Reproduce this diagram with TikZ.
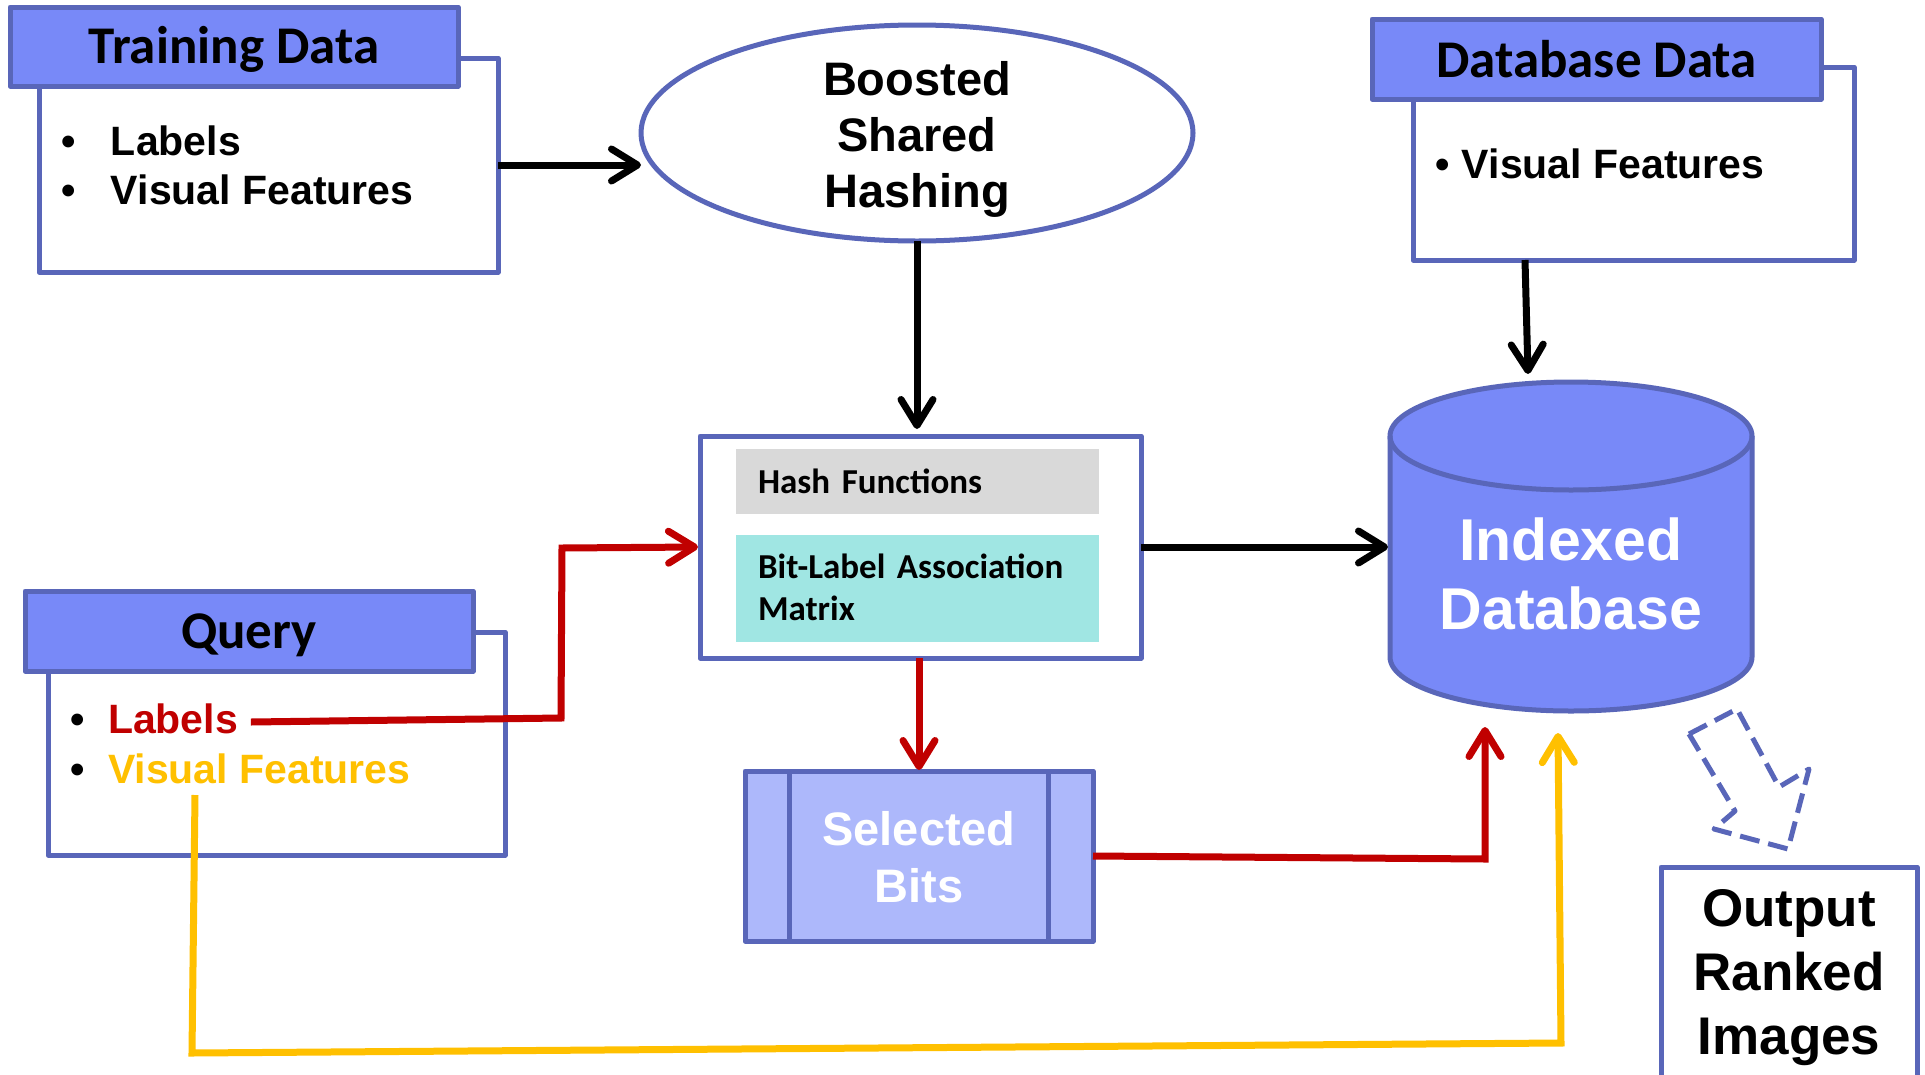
\documentclass[tikz,border=0pt]{standalone}
\usepackage{fontspec}
\setmainfont{Liberation Sans}
\newfontfamily\calfont{Carlito}
\usetikzlibrary{arrows.meta,calc,shapes.geometric}

\definecolor{bdr}{RGB}{89,102,185}
\definecolor{hdr}{RGB}{120,137,248}
\definecolor{bitsfill}{RGB}{173,184,251}
\definecolor{cyanfill}{RGB}{160,230,227}
\definecolor{grayfill}{RGB}{217,217,217}
\definecolor{qred}{RGB}{192,0,0}
\definecolor{qyellow}{RGB}{255,192,0}

\newcommand\fsz[2]{\fontsize{#1}{#2}\selectfont}

\begin{document}
\begin{tikzpicture}[x=1pt,y=-1pt,
  every node/.style={inner sep=0pt,outer sep=0pt},
  panel/.style={rectangle,draw=bdr,line width=5pt,fill=white,line join=round},
  header/.style={rectangle,draw=bdr,line width=5pt,fill=hdr,line join=round,
    font=\calfont\bfseries\fsz{53}{64}},
  item/.style={anchor=base west,font=\bfseries\fsz{41}{49}},
  tip/.style={-{Straight Barb[length=26pt,width=32pt,round]}},
  blk/.style={tip,line width=7pt,black},
  redc/.style={tip,line width=7pt,qred},
  yelc/.style={tip,line width=7pt,qyellow},
]
\useasboundingbox (0,0) rectangle (1925,1074);
\fill[white] (0,0) rectangle (1925,1074);

% ---- Training data panel
\node[panel,minimum width=459pt,minimum height=214pt] (trainbody) at (268.5,165) {};
\node[header,minimum width=448pt,minimum height=79pt,text height=45pt,text depth=12pt]
  (trainhead) at (234,46.5) {Training Data};
\node[item] (tl1) at (61,155) {\makebox[50pt][l]{•}Labels};
\node[item] (tl2) at (61,204) {\makebox[50pt][l]{•}Visual Features};

% ---- Boosted shared hashing
\node[ellipse,draw=bdr,line width=5pt,fill=white,minimum width=552pt,minimum height=216pt]
  (boost) at (917,133) {};
\node[align=center,font=\bfseries\fsz{47}{56}] (boosttxt) at (boost.center)
  {\rule{0pt}{48pt}Boosted\\Shared\\Hashing\rule[-12pt]{0pt}{12pt}};

% ---- Database data panel
\node[panel,minimum width=441pt,minimum height=193pt] (dbbody) at (1633.5,163.5) {};
\node[header,minimum width=449pt,minimum height=80pt,text height=40pt,text depth=4pt]
  (dbhead) at (1596.5,59) {Database Data};
\node[item] (dl1) at (1435,178) {\makebox[27pt][l]{•}Visual Features};

% ---- Query panel
\node[panel,minimum width=457pt,minimum height=223pt] (qbody) at (276.5,743.5) {};
\node[header,minimum width=448pt,minimum height=80pt,text height=46pt,text depth=12pt]
  (qhead) at (249,631) {Query};
\node[item,text=qred] (ql1) at (70,733) {\makebox[38pt][l]{\color{black}•}Labels};
\node[item,text=qyellow] (ql2) at (70,783) {\makebox[38pt][l]{\color{black}•}Visual Features};

% ---- Hash functions block
\node[panel,minimum width=441pt,minimum height=222pt] (hash) at (920.5,547) {};
\node[fill=grayfill,minimum height=65pt,text width=319pt,inner xsep=22pt,align=left,
  font=\calfont\bfseries\fsz{35}{42}] (hf) at (917.5,481.5)
  {\rule{0pt}{28pt}Hash Functions\rule[-5pt]{0pt}{5pt}};
\node[fill=cyanfill,minimum height=107pt,text width=319pt,inner xsep=22pt,align=left,
  font=\calfont\bfseries\fsz{35}{42}] (blm) at (917.5,588.5)
  {\rule{0pt}{26pt}Bit-Label Association\\Matrix\rule[-5pt]{0pt}{5pt}};

% ---- Selected bits
\node[rectangle,draw=bdr,line width=5pt,fill=bitsfill,line join=round,
  minimum width=348pt,minimum height=170pt,align=center,text=white,
  font=\bfseries\fsz{47}{57}] (bits) at (919,856)
  {\rule{0pt}{36pt}Selected\\Bits\rule[-1pt]{0pt}{1pt}};
\draw[bdr,line width=5pt] ([xshift=44pt]bits.north west) -- ([xshift=44pt]bits.south west);
\draw[bdr,line width=5pt] ([xshift=-45pt]bits.north east) -- ([xshift=-45pt]bits.south east);

% ---- Indexed database cylinder
\draw[bdr,line width=5pt,fill=hdr,line join=round]
  (1390,436) -- (1390,657) arc[start angle=180,end angle=360,x radius=181pt,y radius=54pt]
  -- (1752,436) arc[start angle=0,end angle=180,x radius=181pt,y radius=54pt] -- cycle;
\draw[bdr,line width=5pt]
  (1390,436) arc[start angle=180,end angle=360,x radius=181pt,y radius=54pt];
\node[minimum width=362pt,minimum height=329pt,align=center,text=white,
  font=\bfseries\fsz{59}{69}] (db) at (1571,546.5)
  {\rule{0pt}{98pt}Indexed\\Database};

% ---- Output
\node[panel,minimum width=256pt,minimum height=214pt,align=center,
  font=\bfseries\fsz{53}{64}] (out) at (1789,974)
  {\rule{0pt}{44pt}Output\\Ranked\\Images\rule[-12pt]{0pt}{12pt}};
\draw[bdr,line width=5pt,dash pattern=on 20pt off 9pt,line join=round]
  (1689,734) -- (1737,709) -- (1779,787) -- (1809,769) -- (1788,849)
  -- (1714,829) -- (1735,811) -- cycle;

% ---- Connectors
\draw[blk] (trainbody.east) -- (trainbody.east -| boost.west);
\draw[blk] (boost.south) -- ([yshift=7pt]boost.south |- hash.north);
\draw[blk] (hash.east) -- ([xshift=-2pt]hash.east -| db.west);
\draw[blk] ($(dbbody.south west)+(112,0)$) -- ($(db.north west)+(138,-8)$);

\draw[redc] ($(ql1.base east)+(13,-11)$) -- (561,718) -- (562,548) -- ([xshift=-2pt]hash.west);
\draw[redc] (hash.south -| bits.north) -- ([yshift=1pt]bits.north);
\draw[redc] (bits.east) -- (1485,859) -- ($(db.south west)+(95,16)$);

\draw[yelc] ($(ql2.base west)+(125,12)$) -- (192,1053) -- (1561,1043)
  -- ($(db.south west)+(168,22)$);
\end{tikzpicture}
\end{document}
